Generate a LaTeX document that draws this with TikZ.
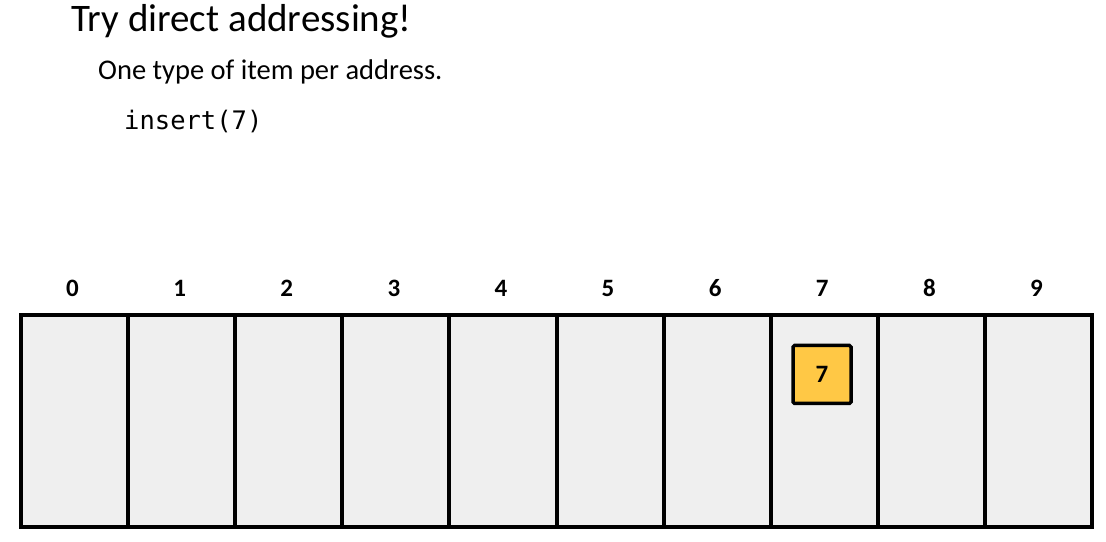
\documentclass[tikz,border=0pt]{standalone}
\usepackage{fontspec}
\setmainfont{Carlito}
\newfontfamily\codefont{DejaVu Sans Mono}
\definecolor{cellgray}{HTML}{EFEFEF}
\definecolor{itemyellow}{HTML}{FFC845}
\begin{document}
\begin{tikzpicture}[x=1pt,y=1pt,
  cell/.style={draw=black,line width=4pt,fill=cellgray,minimum width=107.1pt,minimum height=212pt,inner sep=0pt,anchor=south west},
  idx/.style={font=\fontsize{25}{25}\selectfont\bfseries,anchor=base},
  item/.style={draw=black,line width=3.5pt,fill=itemyellow,minimum width=58pt,minimum height=58pt,inner sep=0pt,rounded corners=1.5pt,font=\fontsize{25}{25}\selectfont\bfseries}]
\useasboundingbox (0,0) rectangle (1106,541);
\node[anchor=base west,font=\fontsize{39}{39}\selectfont,inner sep=0pt] (title) at (71,509) {Try direct addressing!};
\node[anchor=base west,font=\fontsize{28.5}{28.5}\selectfont,inner sep=0pt] (sub) at (98,461) {One type of item per address.};
\node[anchor=base west,font=\codefont\fontsize{25.5}{25.5}\selectfont,inner sep=0pt] (code) at (124,411) {insert(7)};
\foreach \i in {0,...,9}{
  \node[cell] (c\i) at ({19+107.1*\i},12) {};
  \node[idx] (l\i) at ({19+107.1*\i+53.55},244) {\i};
}
\node[item] (it) at (822,166.5) {7};
\end{tikzpicture}
\end{document}
